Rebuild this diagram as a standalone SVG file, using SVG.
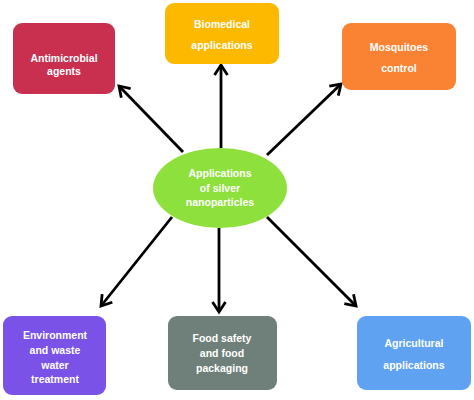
<svg xmlns="http://www.w3.org/2000/svg" width="474" height="400" viewBox="0 0 474 400">
<defs>
<style>
.t{font-family:"Liberation Sans",Arial,sans-serif;font-weight:bold;font-size:10.5px;fill:#ffffff;text-anchor:middle}
.c{stroke:#000;stroke-width:2.8;fill:none;marker-end:url(#ah)}
</style>
<marker id="ah" markerUnits="userSpaceOnUse" markerWidth="16" markerHeight="16" refX="13" refY="8" orient="auto" viewBox="0 0 16 16">
<path d="M3,1.5 L13,8 L3,14.5" fill="none" stroke="#000" stroke-width="2.8" stroke-linejoin="miter"/>
</marker>
</defs>
<rect width="474" height="400" fill="#fff"/>
<g id="connectors">
<line class="c" x1="183" y1="152" x2="119" y2="86"/>
<line class="c" x1="221" y1="148" x2="221" y2="65"/>
<line class="c" x1="267" y1="155" x2="341" y2="84"/>
<line class="c" x1="172" y1="217" x2="101" y2="306"/>
<line class="c" x1="219" y1="228" x2="219" y2="312"/>
<line class="c" x1="267" y1="217" x2="356" y2="306"/>
</g>
<g id="center">
<ellipse cx="220" cy="188" rx="67" ry="40" fill="#8ee03c"/>
<text class="t" x="220" y="177">Applications</text>
<text class="t" x="220" y="192">of silver</text>
<text class="t" x="220" y="206">nanoparticles</text>
</g>
<g id="antimicrobial">
<rect x="13" y="23" width="102" height="71" rx="9" fill="#c9304f"/>
<text class="t" x="64" y="62">Antimicrobial</text>
<text class="t" x="64" y="75">agents</text>
</g>
<g id="biomedical">
<rect x="165" y="3" width="114" height="61" rx="9" fill="#fcb900"/>
<text class="t" x="222" y="28">Biomedical</text>
<text class="t" x="222" y="49">applications</text>
</g>
<g id="mosquitoes">
<rect x="342" y="23" width="114" height="67" rx="9" fill="#fa8333"/>
<text class="t" x="399" y="51">Mosquitoes</text>
<text class="t" x="399" y="72">control</text>
</g>
<g id="environment">
<rect x="3" y="316" width="103" height="79" rx="9" fill="#7a52e8"/>
<text class="t" x="55" y="339">Environment</text>
<text class="t" x="55" y="354">and waste</text>
<text class="t" x="55" y="369">water</text>
<text class="t" x="55" y="383">treatment</text>
</g>
<g id="food">
<rect x="168" y="316" width="109" height="74" rx="9" fill="#6f7f79"/>
<text class="t" x="222" y="342">Food safety</text>
<text class="t" x="222" y="357">and food</text>
<text class="t" x="222" y="372">packaging</text>
</g>
<g id="agricultural">
<rect x="357" y="316" width="114" height="74" rx="9" fill="#5fa2f2"/>
<text class="t" x="414" y="347">Agricultural</text>
<text class="t" x="414" y="369">applications</text>
</g>
</svg>
